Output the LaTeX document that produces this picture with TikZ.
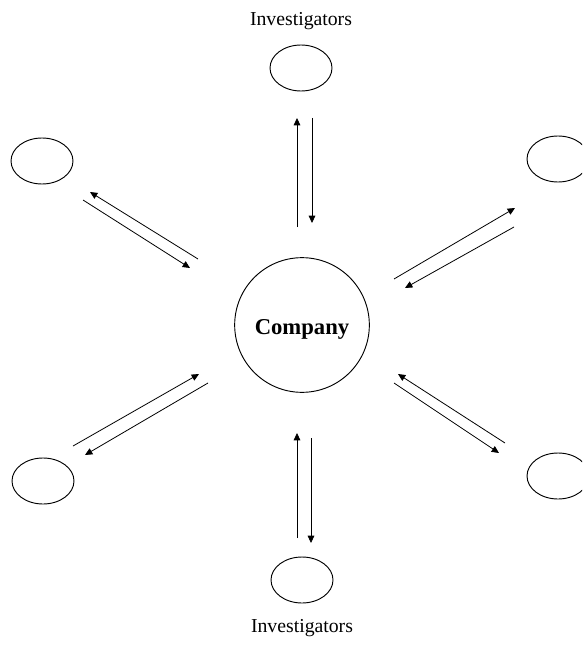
\documentclass[tikz,border=0pt]{standalone}
\usepackage{fontspec}
\setmainfont{Liberation Serif}
\usetikzlibrary{arrows.meta,shapes.geometric}
\begin{document}
\begin{tikzpicture}[x=0.75pt,y=-0.75pt,
  oval/.style={draw,ellipse,line width=0.7pt,minimum width=46.5pt,minimum height=34.5pt,inner sep=0pt},
  hub/.style={draw,circle,line width=0.7pt,minimum size=101pt,inner sep=0pt},
  hubtext/.style={font=\fontsize{17}{20}\selectfont\bfseries},
  lab/.style={font=\fontsize{14.8}{17}\selectfont},
  arr/.style={line width=0.6pt,-{Triangle[length=5.5pt,width=5pt]}}]
\useasboundingbox (0,0) rectangle (582,652);
\fill[white] (0,0) rectangle (582,652);
\begin{scope}
\clip (0,0) rectangle (582,652);
\node[hub] (co) at (302,325) {};
\node[hubtext] (cotext) at (302,329) {Company};
\node[oval] (top) at (301,68) {};
\node[oval] (bot) at (302,580) {};
\node[oval] (tl) at (42,161) {};
\node[oval] (tr) at (558,159) {};
\node[oval] (bl) at (43,481) {};
\node[oval] (br) at (558,476) {};
\node[lab] (tlab) at (301,21) {Investigators};
\node[lab] (blab) at (302,628) {Investigators};
% top pair
\coordinate (t1a) at (297,227); \coordinate (t1b) at (297,118);
\coordinate (t2a) at (312,118); \coordinate (t2b) at (312,223);
\draw[arr] (t1a) -- (t1b);
\draw[arr] (t2a) -- (t2b);
% bottom pair
\coordinate (b1a) at (297,538); \coordinate (b1b) at (297,433);
\coordinate (b2a) at (311,438); \coordinate (b2b) at (311,543);
\draw[arr] (b1a) -- (b1b);
\draw[arr] (b2a) -- (b2b);
% top-left pair
\coordinate (l1a) at (198,259); \coordinate (l1b) at (90,192);
\coordinate (l2a) at (83,200); \coordinate (l2b) at (190,268);
\draw[arr] (l1a) -- (l1b);
\draw[arr] (l2a) -- (l2b);
% top-right pair
\coordinate (r1a) at (394,279); \coordinate (r1b) at (515,208);
\coordinate (r2a) at (514,227); \coordinate (r2b) at (405,288);
\draw[arr] (r1a) -- (r1b);
\draw[arr] (r2a) -- (r2b);
% bottom-left pair
\coordinate (m1a) at (73,446); \coordinate (m1b) at (199,374);
\coordinate (m2a) at (208,383); \coordinate (m2b) at (85,455);
\draw[arr] (m1a) -- (m1b);
\draw[arr] (m2a) -- (m2b);
% bottom-right pair
\coordinate (n1a) at (505,443); \coordinate (n1b) at (398,374);
\coordinate (n2a) at (394,383); \coordinate (n2b) at (499,453);
\draw[arr] (n1a) -- (n1b);
\draw[arr] (n2a) -- (n2b);
\end{scope}
\end{tikzpicture}
\end{document}
